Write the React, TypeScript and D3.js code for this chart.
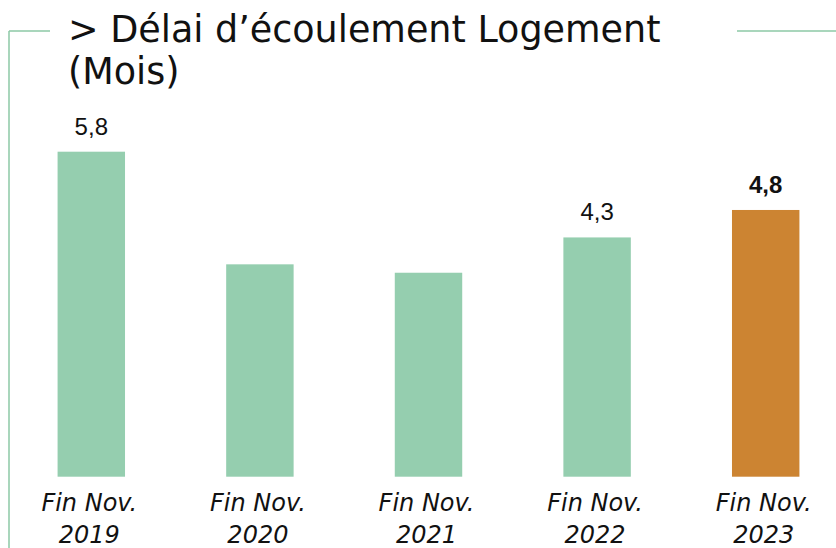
import React from "react";
import * as d3 from "d3";

const categories = ["2019", "2020", "2021", "2022", "2023"];
const values = [5.8, 3.79, 3.64, 4.27, 4.76];
const valueLabels = ["5,8", "", "", "4,3", "4,8"];
const highlight = [false, false, false, false, true];
const titleLines = ["> Délai d’écoulement Logement", "(Mois)"];
const labelPrefix = "Fin Nov.";

const W = 836;
const H = 548;
const GREEN = "#95ceaf";
const ORANGE = "#cc8432";
const LINE = "#8cc9a6";
const FONT = "'DejaVu Sans', sans-serif";

export default function App() {
  const x = d3
    .scaleBand<string>()
    .domain(categories)
    .range([7, 850])
    .paddingInner(0.6)
    .paddingOuter(0.3);
  const y = d3.scaleLinear().domain([0, 5.8]).range([476.7, 151.7]);

  return (
    <svg
      width={W}
      height={H}
      style={{ position: "absolute", left: 0, top: 0, background: "#fff" }}
    >
      {/* frame lines */}
      <line x1={9} y1={31} x2={50} y2={31} stroke={LINE} strokeWidth={1.5} />
      <line x1={9} y1={31} x2={9} y2={H} stroke={LINE} strokeWidth={1.5} />
      <line x1={737} y1={31} x2={W} y2={31} stroke={LINE} strokeWidth={1.5} />

      {/* title */}
      {titleLines.map((t, i) => (
        <text
          key={i}
          x={68}
          y={42 + i * 42}
          fontFamily={FONT}
          fontSize={36.5}
          fill="#111"
        >
          {t}
        </text>
      ))}

      {/* bars */}
      {categories.map((c, i) => (
        <rect
          key={c}
          x={x(c)}
          y={y(values[i])}
          width={x.bandwidth()}
          height={y(0) - y(values[i])}
          fill={highlight[i] ? ORANGE : GREEN}
        />
      ))}

      {/* value labels */}
      {categories.map((c, i) =>
        valueLabels[i] ? (
          <text
            key={c}
            x={(x(c) as number) + x.bandwidth() / 2}
            y={y(values[i]) - 17}
            textAnchor="middle"
            fontFamily="'Liberation Sans', Arial, sans-serif"
            fontSize={24}
            fontWeight={highlight[i] ? "bold" : "normal"}
            fill="#111"
          >
            {valueLabels[i]}
          </text>
        ) : null
      )}

      {/* category labels */}
      {categories.map((c, i) => {
        const cx = (x(c) as number) + x.bandwidth() / 2 - 2;
        return (
          <text
            key={c}
            x={cx}
            textAnchor="middle"
            fontFamily={FONT}
            fontStyle="italic"
            fontSize={24}
            fill="#111"
          >
            <tspan x={cx} y={511}>
              {labelPrefix}
            </tspan>
            <tspan x={cx} y={543}>
              {c}
            </tspan>
          </text>
        );
      })}
    </svg>
  );
}
